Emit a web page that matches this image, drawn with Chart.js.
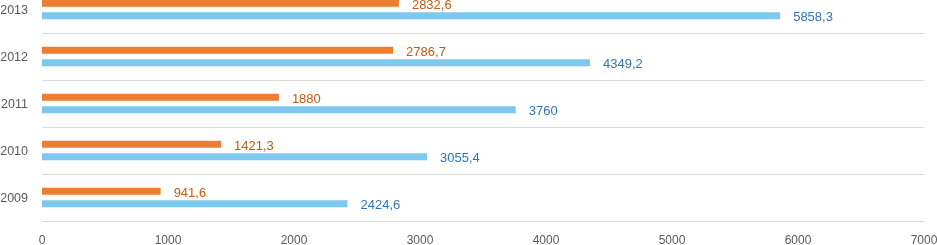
<!DOCTYPE html>
<html>
<head>
<meta charset="utf-8">
<script src="https://cdn.jsdelivr.net/npm/chart.js@4/dist/chart.umd.min.js"></script>
<style>
  html, body { margin: 0; padding: 0; background: #fff; overflow: hidden; width: 937px; height: 245px; }
  #wrap { position: absolute; left: 0; top: -14px; width: 937px; height: 264px; }
</style>
</head>
<body>
<div id="wrap"><canvas id="c" width="937" height="264"></canvas></div>
<script>
const categories = ["2013", "2012", "2011", "2010", "2009"];
const seriesOrange = [2832.6, 2786.7, 1880, 1421.3, 941.6];
const seriesBlue = [5858.3, 4349.2, 3760, 3055.4, 2424.6];
const xTicks = [0, 1000, 2000, 3000, 4000, 5000, 6000, 7000];

const FONT = "'Liberation Sans', 'DejaVu Sans', sans-serif";

const labelPlugin = {
  id: 'barLabels',
  afterDatasetsDraw(chart) {
    const ctx = chart.ctx;
    ctx.save();
    ctx.font = '13px ' + FONT;
    ctx.textBaseline = 'middle';
    ctx.textAlign = 'left';
    chart.data.datasets.forEach((ds, di) => {
      const meta = chart.getDatasetMeta(di);
      meta.data.forEach((bar, i) => {
        const v = ds.data[i];
        const txt = String(v).replace('.', ',');
        ctx.fillStyle = ds.labelColor;
        ctx.fillText(txt, bar.x + 13, bar.y + 2);
      });
    });
    ctx.restore();
  }
};

new Chart(document.getElementById('c'), {
  type: 'bar',
  data: {
    labels: categories,
    datasets: [
      { data: seriesOrange, backgroundColor: '#ED7D31', labelColor: '#C55A11',
        categoryPercentage: 0.53, barPercentage: 0.56 },
      { data: seriesBlue, backgroundColor: '#7CC8EE', labelColor: '#2E75B6',
        categoryPercentage: 0.53, barPercentage: 0.56 }
    ]
  },
  options: {
    indexAxis: 'y',
    responsive: false,
    animation: false,
    devicePixelRatio: 1,
    layout: { padding: 0 },
    plugins: { legend: { display: false }, tooltip: { enabled: false } },
    scales: {
      x: {
        min: 0, max: 7000,
        afterBuildTicks(scale) { scale.ticks = xTicks.map(v => ({ value: v })); },
        afterFit(scale) { scale.height = 29; scale.paddingLeft = 0; scale.paddingRight = 13; },
        grid: { display: false, drawTicks: false },
        border: { display: false },
        ticks: { color: '#595959', font: { size: 12, family: FONT }, padding: 12, maxRotation: 0,
                 callback: (v) => String(v) }
      },
      y: {
        afterFit(scale) { scale.width = 42; scale.paddingTop = 0; scale.paddingBottom = 0; },
        grid: { color: '#D9D9D9', lineWidth: 1, drawTicks: false, offset: true },
        border: { display: false },
        ticks: { color: '#595959', font: { size: 12.5, family: FONT }, padding: 14, labelOffset: 1.5 }
      }
    }
  },
  plugins: [labelPlugin]
});
</script>
</body>
</html>
